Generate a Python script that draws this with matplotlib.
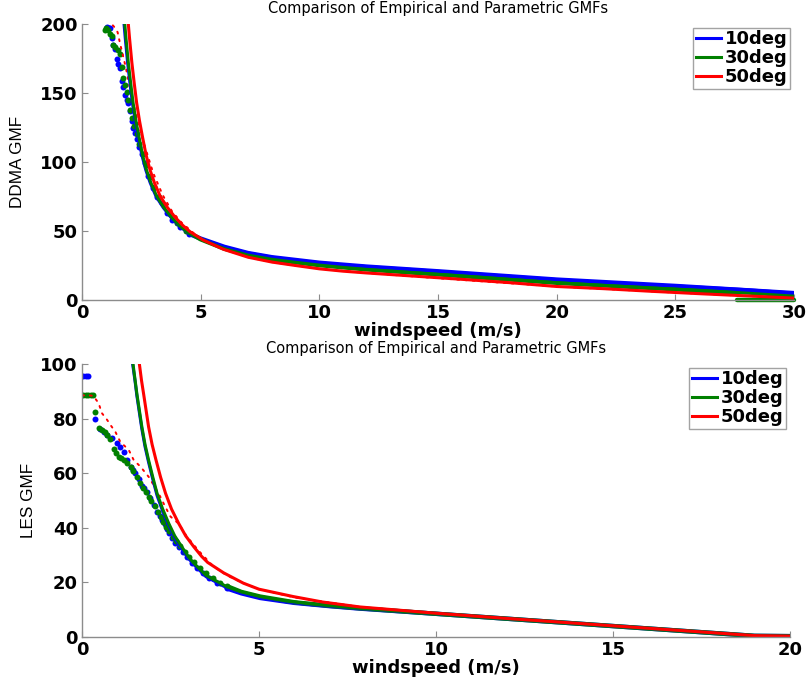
import matplotlib
matplotlib.use("Agg")
import matplotlib.pyplot as plt

# ---------------- DDMA GMF (top panel) ----------------
# parametric model curves
ddma_fit10_ws = [1.72, 1.77, 1.82, 1.92, 2.02, 2.12, 2.24, 2.37, 2.52, 2.69, 2.87, 3.12, 3.42, 3.74, 4.07, 4.40,
                 5.0, 5.95, 7.0, 8.0, 9.0, 10.0, 11.0, 12.0, 14.0, 16.0, 18.0, 20.0, 22.0, 24.0, 26.0, 28.0, 30.0]
ddma_fit10 = [212, 200, 190, 172, 157, 143, 130, 118, 105, 94, 85, 75, 67, 60, 54, 49.5,
              44.5, 38.5, 34.0, 31.0, 28.8, 27.0, 25.4, 24.2, 22.0, 19.6, 17.2, 14.8, 12.8, 11.0, 9.3, 7.5, 5.0]
ddma_fit30_ws = [1.75, 1.80, 1.85, 1.95, 2.05, 2.15, 2.27, 2.40, 2.55, 2.72, 2.90, 3.15, 3.45, 3.77, 4.10, 4.42,
                 5.0, 5.95, 7.0, 8.0, 9.0, 10.0, 11.0, 12.0, 14.0, 16.0, 18.0, 20.0, 22.0, 24.0, 26.0, 28.0, 30.0]
ddma_fit30 = [212, 200, 190, 172, 157, 143, 130, 118, 105, 94, 85, 75, 67, 60, 54, 49.5,
              44.0, 37.5, 32.5, 29.5, 27.3, 25.3, 23.6, 22.2, 19.8, 17.5, 15.0, 12.5, 10.6, 8.7, 7.0, 5.0, 2.8]
ddma_fit50_ws = [1.90, 1.95, 2.0, 2.1, 2.2, 2.3, 2.42, 2.55, 2.7, 2.87, 3.05, 3.3, 3.6, 3.92, 4.25, 4.55,
                 5.1, 5.95, 7.0, 8.0, 9.0, 10.0, 11.0, 12.0, 14.0, 16.0, 18.0, 20.0, 22.0, 24.0, 26.0, 28.0, 30.0]
ddma_fit50 = [212, 200, 190, 172, 157, 143, 130, 118, 105, 94, 85, 75, 67, 60, 54, 49.5,
              43.5, 36.8, 31.0, 27.5, 25.0, 22.6, 20.9, 19.6, 17.3, 15.0, 12.6, 9.8, 8.2, 6.3, 4.6, 3.0, 1.4]

# empirical estimates
ddma_emp10_ws = [1.05, 1.12, 1.18, 1.25, 1.32, 1.39, 1.46, 1.53, 1.60, 1.67, 1.74, 1.81, 1.88, 1.95, 2.02,
                 2.09, 2.16, 2.23, 2.30, 2.40, 2.52, 2.65, 2.80, 3.00, 3.18, 3.36, 3.57, 3.80, 4.13, 4.50]
ddma_emp10 = [198, 197, 197, 190, 185, 182, 175, 171, 168, 159, 154, 148.6, 145, 142.5, 137,
              130, 125, 121, 117, 111, 106, 99, 90, 81, 75, 70, 63, 58, 53, 48]
ddma_emp10_tail_ws = [4.5, 5.0, 6.0, 7.0, 8.0, 10.0, 12.0, 15.0, 20.0, 25.0, 30.0]
ddma_emp10_tail = [48, 44.5, 38.5, 34.0, 31.0, 27.0, 24.2, 20.8, 14.8, 10.2, 5.0]

ddma_emp30_ws = [0.95, 1.02, 1.10, 1.18, 1.25, 1.32, 1.40, 1.50, 1.60, 1.67, 1.74, 1.81, 1.88, 1.95,
                 2.02, 2.10, 2.20, 2.30, 2.42, 2.55, 2.70, 2.88, 3.05, 3.25, 3.45, 3.70, 4.0, 4.4]
ddma_emp30 = [196, 197, 196, 193, 191, 185, 183, 181, 178, 169, 161, 156, 151, 145,
              138, 132, 126, 120, 113, 106, 98, 89, 82, 75, 69, 62, 56, 50]
ddma_emp30_tail_ws = [4.4, 5.0, 6.0, 7.0, 8.0, 10.0, 12.0, 15.0, 20.0, 25.0, 27.5]
ddma_emp30_tail = [50, 44.0, 37.2, 32.5, 29.5, 25.3, 22.2, 18.6, 12.5, 7.8, 5.0]
ddma_emp30_zero_ws = [27.6, 30.0]
ddma_emp30_zero = [0.0, 0.0]

ddma_emp50_ws = [1.3, 1.4, 1.5, 1.6, 1.7, 1.85, 2.0, 2.2, 2.4, 2.6, 2.8, 3.0, 3.4, 3.8, 4.2, 4.6,
                 5.0, 6.0, 7.0, 8.0, 10.0, 12.0, 15.0, 20.0, 25.0, 30.0]
ddma_emp50 = [199, 197, 194, 186, 179, 168, 155, 140, 126, 114, 103, 92, 76, 64, 56, 50,
              44, 37, 31, 27.5, 22.6, 19.6, 15.8, 9.8, 5.4, 1.4]

# ---------------- LES GMF (bottom panel) ----------------
les_fit10_ws = [1.43, 1.50, 1.55, 1.62, 1.69, 1.78, 1.88, 2.00, 2.12, 2.28, 2.45, 2.62, 2.82, 3.0, 3.14,
                3.5, 4.09, 4.5, 5.03, 5.7, 6.44, 7.85, 10.0, 12.0, 14.0, 16.0, 18.0, 19.0, 20.0]
les_fit10 = [100, 93.5, 88.3, 82.2, 76.2, 69.7, 64.0, 57.7, 51.8, 46.0, 40.9, 36.3, 32.3, 28.9, 26.8,
             22.1, 18.0, 16.1, 14.5, 13.0, 11.9, 10.4, 8.5, 6.7, 4.9, 3.1, 1.3, 0.4, 0.3]
les_fit30_ws = [1.44, 1.50, 1.55, 1.62, 1.69, 1.78, 1.88, 2.00, 2.12, 2.28, 2.45, 2.62, 2.82, 3.0, 3.14,
                3.5, 4.09, 4.5, 5.03, 5.7, 6.44, 7.85, 10.0, 12.0, 14.0, 16.0, 18.0, 19.0, 20.0]
les_fit30 = [100, 94, 89, 83, 77, 70.5, 64.8, 58.5, 52.6, 46.8, 41.6, 37, 33, 29.5, 27.3,
             22.6, 18.4, 16.5, 14.8, 13.3, 12.1, 10.5, 8.5, 6.7, 4.9, 3.1, 1.3, 0.4, 0.3]
les_fit50_ws = [1.62, 1.68, 1.74, 1.81, 1.88, 1.98, 2.09, 2.22, 2.36, 2.53, 2.73, 2.93, 3.16, 3.38, 3.55,
                4.0, 4.56, 5.0, 5.97, 6.8, 7.85, 10.0, 12.0, 14.0, 16.0, 18.0, 19.0, 20.0]
les_fit50 = [100, 94, 89, 83, 77, 70.5, 64.8, 58.5, 52.6, 46.8, 41.6, 37, 33, 29.5, 27.3,
             23.5, 19.7, 17.5, 14.8, 12.8, 11.0, 8.7, 6.8, 5.0, 3.2, 1.4, 0.5, 0.3]

les_emp10_ws = [0.02, 0.10, 0.18, 0.36, 0.50, 0.62, 0.71, 0.85, 0.99, 1.08, 1.18, 1.28, 1.37, 1.44, 1.51,
                1.60, 1.69, 1.76, 1.84, 1.93, 2.02, 2.12, 2.19, 2.26, 2.33, 2.40, 2.47, 2.54, 2.63, 2.73,
                2.85, 2.97, 3.10, 3.25, 3.42, 3.60, 3.80, 4.09]
les_emp10 = [95.5, 95.5, 95.5, 79.7, 76.0, 75.0, 74.0, 72.8, 71.0, 69.5, 67.9, 65.0, 62.4, 61.3, 60.0,
             58.0, 55.3, 54.5, 53.2, 50.8, 48.4, 45.9, 44.3, 42.9, 41.2, 39.5, 38.0, 36.3, 34.6, 33.0,
             31.0, 29.2, 27.2, 25.3, 23.4, 21.6, 19.9, 17.8]
les_emp10_tail_ws = [4.09, 4.5, 5.03, 6.0, 7.0, 7.85, 10.0, 12.0, 14.0, 16.0, 18.0, 19.0, 20.0]
les_emp10_tail = [17.8, 16.0, 14.3, 12.5, 11.3, 10.4, 8.5, 6.7, 4.9, 3.1, 1.3, 0.4, 0.3]

les_emp30_ws = [0.02, 0.10, 0.18, 0.26, 0.32, 0.38, 0.47, 0.56, 0.64, 0.71, 0.80, 0.89, 0.97, 1.04, 1.10,
                1.18, 1.26, 1.37, 1.45, 1.55, 1.63, 1.72, 1.80, 1.88, 1.96, 2.05, 2.14, 2.22, 2.30, 2.38,
                2.46, 2.56, 2.66, 2.77, 2.90, 3.03, 3.17, 3.33, 3.50, 3.70, 3.90, 4.10]
les_emp30 = [88.6, 88.6, 88.6, 88.6, 88.6, 82.5, 76.4, 75.9, 75.0, 74.0, 72.5, 68.7, 67.3, 66.0, 65.5,
             64.8, 63.8, 62.4, 60.7, 58.7, 56.5, 54.5, 53.0, 51.2, 49.7, 47.8, 45.6, 43.8, 42.0, 40.4,
             38.8, 36.8, 35.0, 33.2, 31.2, 29.2, 27.3, 25.4, 23.6, 21.6, 19.9, 18.6]
les_emp30_tail_ws = [4.1, 4.5, 5.03, 6.0, 7.0, 7.85, 10.0, 12.0, 14.0, 16.0, 18.0, 19.0, 20.0]
les_emp30_tail = [18.6, 16.5, 14.8, 12.7, 11.4, 10.5, 8.5, 6.7, 4.9, 3.1, 1.3, 0.4, 0.3]

les_emp50_ws = [0.0, 0.1, 0.2, 0.32, 0.47, 0.56, 0.71, 0.80, 0.94, 1.08, 1.32, 1.46, 1.65, 1.88, 2.02,
                2.21, 2.35, 2.50, 2.73, 2.95, 3.30, 3.70, 4.10, 4.60, 5.0, 6.0, 7.85, 10.0, 12.0, 14.0,
                16.0, 18.0, 19.0, 20.0]
les_emp50 = [88.5, 88.5, 88.5, 88.3, 85.6, 82.0, 79.5, 77.7, 75.2, 71.5, 68.5, 64.8, 62.4, 58.7, 55.7,
             51.4, 47.7, 44.1, 41.5, 37.0, 31.5, 26.0, 22.5, 19.5, 17.5, 14.5, 11.0, 8.7, 6.8, 5.0,
             3.2, 1.4, 0.5, 0.3]

angle_labels = ["10deg", "30deg", "50deg"]
c_blue, c_green, c_red = "#0000ff", "#008000", "#ff0000"

TITLE = "Comparison of Empirical and Parametric GMFs"
XLABEL = "windspeed (m/s)"

fig = plt.figure(figsize=(8.09, 6.78), dpi=100)
ax1 = fig.add_axes([0.1014, 0.5575, 0.880, 0.4071])
ax2 = fig.add_axes([0.1014, 0.0605, 0.875, 0.4027])

dot_kw = dict(linestyle="none", marker="o", markersize=4.3, markeredgewidth=0)
tail_kw = dict(linewidth=3.2, solid_capstyle="round")
red_dot_kw = dict(linewidth=1.4, linestyle=(0, (1, 3)), dash_capstyle="round", color=c_red)
fit_kw = dict(linewidth=2.2)


def style_axes(ax, xmax, ymax, xticks, yticks, ylabel, ylabel_x):
    ax.set_xlim(0, xmax)
    ax.set_ylim(0, ymax)
    ax.set_xticks(xticks)
    ax.set_yticks(yticks)
    for side in ("top", "right"):
        ax.spines[side].set_visible(False)
    for side in ("left", "bottom"):
        ax.spines[side].set_color("#8c8c8c")
        ax.spines[side].set_linewidth(1.0)
    ax.tick_params(direction="in", length=4, width=0.8, color="#8c8c8c",
                   labelsize=13, labelcolor="black")
    ax.tick_params(axis="y", pad=3)
    ax.tick_params(axis="x", pad=3)
    for lab in ax.get_xticklabels() + ax.get_yticklabels():
        lab.set_fontweight("bold")
        lab.set_family("DejaVu Sans")
    ax.set_title(TITLE, fontsize=10.5, family="DejaVu Sans", pad=8)
    ax.set_xlabel(XLABEL, fontsize=13, fontweight="bold", family="DejaVu Sans", labelpad=0)
    ax.set_ylabel(ylabel, fontsize=12.3, family="Liberation Sans")
    ax.yaxis.set_label_coords(ylabel_x, 0.5)
    leg = ax.legend(loc="upper right", frameon=True, fancybox=False,
                    handlelength=1.4, handletextpad=0.2, borderpad=0.15,
                    labelspacing=0.05, borderaxespad=0.2,
                    prop=dict(family="DejaVu Sans", weight="bold", size=13))
    leg.get_frame().set_edgecolor("#8c8c8c")
    leg.get_frame().set_linewidth(1.0)


# top panel
ax1.plot(ddma_emp10_ws, ddma_emp10, color=c_blue, **dot_kw)
ax1.plot(ddma_emp10_tail_ws, ddma_emp10_tail, color=c_blue, **tail_kw)
ax1.plot(ddma_emp30_ws, ddma_emp30, color=c_green, **dot_kw)
ax1.plot(ddma_emp30_tail_ws, ddma_emp30_tail, color=c_green, **tail_kw)
ax1.plot(ddma_emp30_zero_ws, ddma_emp30_zero, color=c_green, clip_on=False, **tail_kw)
ax1.plot(ddma_emp50_ws, ddma_emp50, **red_dot_kw)
ax1.plot(ddma_fit10_ws, ddma_fit10, color=c_blue, label=angle_labels[0], **fit_kw)
ax1.plot(ddma_fit30_ws, ddma_fit30, color=c_green, label=angle_labels[1], **fit_kw)
ax1.plot(ddma_fit50_ws, ddma_fit50, color=c_red, label=angle_labels[2], **fit_kw)
style_axes(ax1, 30, 200, [0, 5, 10, 15, 20, 25, 30], [0, 50, 100, 150, 200], "DDMA GMF", -0.080)

# bottom panel
ax2.plot(les_emp10_ws, les_emp10, color=c_blue, **dot_kw)
ax2.plot(les_emp10_tail_ws, les_emp10_tail, color=c_blue, **tail_kw)
ax2.plot(les_emp30_ws, les_emp30, color=c_green, **dot_kw)
ax2.plot(les_emp30_tail_ws, les_emp30_tail, color=c_green, **tail_kw)
ax2.plot(les_emp50_ws, les_emp50, **red_dot_kw)
ax2.plot(les_fit10_ws, les_fit10, color=c_blue, label=angle_labels[0], **fit_kw)
ax2.plot(les_fit30_ws, les_fit30, color=c_green, label=angle_labels[1], **fit_kw)
ax2.plot(les_fit50_ws, les_fit50, color=c_red, label=angle_labels[2], **fit_kw)
style_axes(ax2, 20, 100, [0, 5, 10, 15, 20], [0, 20, 40, 60, 80, 100], "LES GMF", -0.065)

fig.savefig("out.png", dpi=100)
